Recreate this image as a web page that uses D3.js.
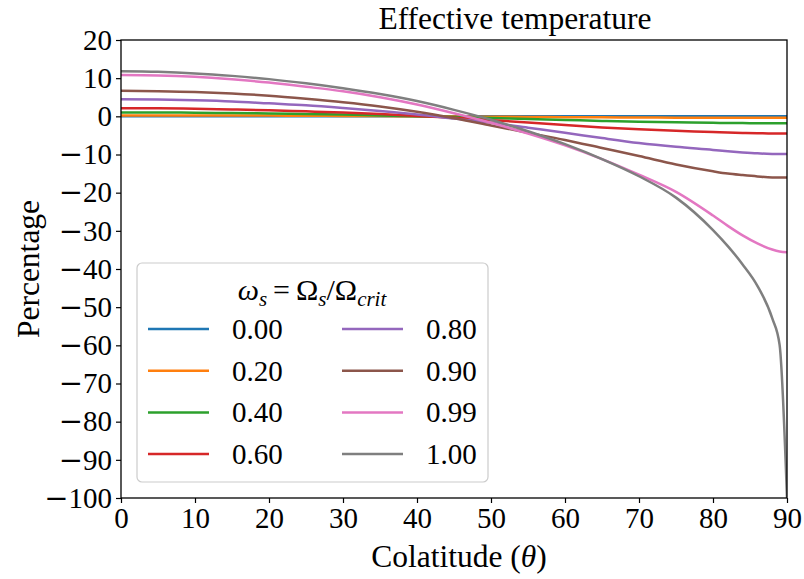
<!DOCTYPE html>
<html>
<head>
<meta charset="utf-8">
<script src="https://cdn.jsdelivr.net/npm/d3@7"></script>
<style>
  body { margin: 0; background: #fff; }
  svg text { font-family: "Liberation Serif", "Times New Roman", serif; fill: #000; }
</style>
</head>
<body>
<div id="chart"></div>
<script>
// colatitude samples (degrees)
const theta = [0, 5, 10, 15, 20, 25, 30, 35, 40, 45, 50, 55, 60, 65, 70, 75, 80, 82, 84, 86, 88, 89, 90];

// effective temperature change (%) per omega
const w000 = [0, 0, 0, 0, 0, 0, 0, 0, 0, 0, 0, 0, 0, 0, 0, 0, 0, 0, 0, 0, 0, 0, 0];
const w020 = [0.25, 0.25, 0.24, 0.22, 0.19, 0.15, 0.11, 0.06, 0.01, -0.05, -0.11, -0.17, -0.22, -0.27, -0.31, -0.34, -0.37, -0.38, -0.39, -0.4, -0.4, -0.4, -0.4];
const w040 = [1.0, 1.0, 0.95, 0.85, 0.75, 0.6, 0.45, 0.25, 0.05, -0.2, -0.45, -0.7, -0.95, -1.2, -1.4, -1.55, -1.7, -1.74, -1.77, -1.79, -1.8, -1.8, -1.8];
const w060 = [2.1, 2.1, 2.0, 1.8, 1.6, 1.3, 1.0, 0.6, 0.1, -0.4, -1.0, -1.6, -2.3, -2.9, -3.4, -3.8, -4.1, -4.25, -4.35, -4.42, -4.5, -4.5, -4.5];
const w080 = [4.5, 4.4, 4.2, 3.9, 3.4, 2.9, 2.2, 1.4, 0.5, -0.6, -1.7, -3.0, -4.3, -5.7, -7.0, -8.0, -8.8, -9.15, -9.45, -9.7, -9.85, -9.9, -9.9];
const w090 = [6.7, 6.6, 6.4, 6.0, 5.4, 4.6, 3.7, 2.6, 1.2, -0.5, -2.4, -4.3, -6.2, -8.3, -10.4, -12.6, -14.4, -15.0, -15.4, -15.75, -16.0, -16.0, -16.0];
const w099 = [10.8, 10.7, 10.35, 9.7, 8.85, 7.75, 6.55, 5.0, 3.1, 0.8, -1.7, -4.5, -7.6, -11.2, -15.3, -19.8, -26.0, -28.7, -31.2, -33.3, -34.9, -35.4, -35.6];
const w100 = [11.8, 11.65, 11.25, 10.6, 9.75, 8.65, 7.35, 5.85, 4.0, 1.7, -0.9, -3.9, -7.3, -11.2, -15.7, -21.3, -29.8, -34.0, -38.8, -44.4, -52.9, -59.9, -100];

const omegaLabels = ["0.00", "0.20", "0.40", "0.60", "0.80", "0.90", "0.99", "1.00"];
const seriesValues = [w000, w020, w040, w060, w080, w090, w099, w100];

const xTicks = d3.range(0, 91, 10);
const yTicks = d3.range(-100, 21, 10);

const width = 804, height = 579;
const margin = {top: 40, right: 17, bottom: 81, left: 121};

const colors = d3.scaleOrdinal(omegaLabels, d3.schemeCategory10);

const svg = d3.select('#chart').append('svg')
    .attr('width', width)
    .attr('height', height);

const x = d3.scaleLinear().domain([0, 90]).range([margin.left, width - margin.right]);
const y = d3.scaleLinear().domain([-100, 20]).range([height - margin.bottom, margin.top]);

const line = d3.line()
    .x(d => x(d[0]))
    .y(d => y(d[1]))
    .curve(d3.curveMonotoneX);

svg.append('clipPath').attr('id', 'clip')
  .append('rect')
    .attr('x', x(0)).attr('y', y(20))
    .attr('width', x(90) - x(0)).attr('height', y(-100) - y(20) + 2);

// curves
svg.append('g').attr('clip-path', 'url(#clip)')
  .selectAll('path')
  .data(seriesValues)
  .join('path')
    .attr('fill', 'none')
    .attr('stroke', (_, i) => colors(omegaLabels[i]))
    .attr('stroke-width', 2.5)
    .attr('stroke-linejoin', 'round')
    .attr('d', vals => line(theta.map((t, j) => [t, vals[j]])));

// axes
const xAxis = svg.append('g')
    .attr('transform', `translate(0,${y(-100)})`)
    .call(d3.axisBottom(x).tickValues(xTicks).tickSize(5).tickPadding(4).tickFormat(d3.format('d')));
const yAxis = svg.append('g')
    .attr('transform', `translate(${x(0)},0)`)
    .call(d3.axisLeft(y).tickValues(yTicks).tickSize(5).tickPadding(4).tickFormat(''));

[xAxis, yAxis].forEach(a => {
  a.select('.domain').remove();
  a.selectAll('.tick line').attr('stroke', '#000').attr('stroke-width', 1.2);
  a.selectAll('.tick text').attr('font-size', 29).attr('font-family', '"Liberation Serif", serif');
});

// y tick labels with the wide minus sign matplotlib uses
yAxis.selectAll('.tick text').each(function(d) {
  const t = d3.select(this);
  if (d < 0) {
    t.append('tspan').attr('font-family', '"DejaVu Sans", sans-serif').text('\u2212');
    t.append('tspan').text(Math.abs(d));
  } else {
    t.text(d);
  }
});

// frame
svg.append('rect')
    .attr('x', x(0)).attr('y', y(20))
    .attr('width', x(90) - x(0)).attr('height', y(-100) - y(20))
    .attr('fill', 'none').attr('stroke', '#000').attr('stroke-width', 1.3);

// title and labels
svg.append('text')
    .attr('x', 515).attr('y', 29)
    .attr('text-anchor', 'middle').attr('font-size', 31.5)
    .text('Effective temperature');

const xl = svg.append('text')
    .attr('x', (x(0) + x(90)) / 2 + 5).attr('y', 567)
    .attr('text-anchor', 'middle').attr('font-size', 31.5);
xl.append('tspan').text('Colatitude (');
xl.append('tspan').attr('font-style', 'italic').text('θ');
xl.append('tspan').text(')');

svg.append('text')
    .attr('transform', `translate(39,${(y(20) + y(-100)) / 2}) rotate(-90)`)
    .attr('text-anchor', 'middle').attr('font-size', 31.5)
    .text('Percentage');

// legend
const lg = svg.append('g');
lg.append('rect')
    .attr('x', 137).attr('y', 263).attr('width', 351).attr('height', 219)
    .attr('rx', 5)
    .attr('fill', '#fff').attr('fill-opacity', 0.8)
    .attr('stroke', '#cccccc').attr('stroke-width', 1.2);

const lt = lg.append('text')
    .attr('x', 312).attr('y', 300)
    .attr('text-anchor', 'middle').attr('font-size', 30);
lt.append('tspan').attr('font-style', 'italic').text('ω');
lt.append('tspan').attr('font-style', 'italic').attr('font-size', 21).attr('dy', 6).text('s');
lt.append('tspan').attr('dy', -6).text('\u2009=\u2009Ω');
lt.append('tspan').attr('font-style', 'italic').attr('font-size', 21).attr('dy', 6).text('s');
lt.append('tspan').attr('dy', -6).text('/Ω');
lt.append('tspan').attr('font-style', 'italic').attr('font-size', 21).attr('dy', 6).text('crit');

const rowY = i => 329 + (i % 4) * 41.7;
const colX = i => i < 4 ? 148 : 342;

const item = lg.selectAll('g.item')
  .data(omegaLabels)
  .join('g').attr('class', 'item');

item.append('line')
    .attr('x1', (_, i) => colX(i)).attr('x2', (_, i) => colX(i) + 61)
    .attr('y1', (_, i) => rowY(i)).attr('y2', (_, i) => rowY(i))
    .attr('stroke', d => colors(d)).attr('stroke-width', 2.5);

item.append('text')
    .attr('x', (_, i) => colX(i) + 84)
    .attr('y', (_, i) => rowY(i) + 10)
    .attr('font-size', 29)
    .text(d => d);
</script>
</body>
</html>
